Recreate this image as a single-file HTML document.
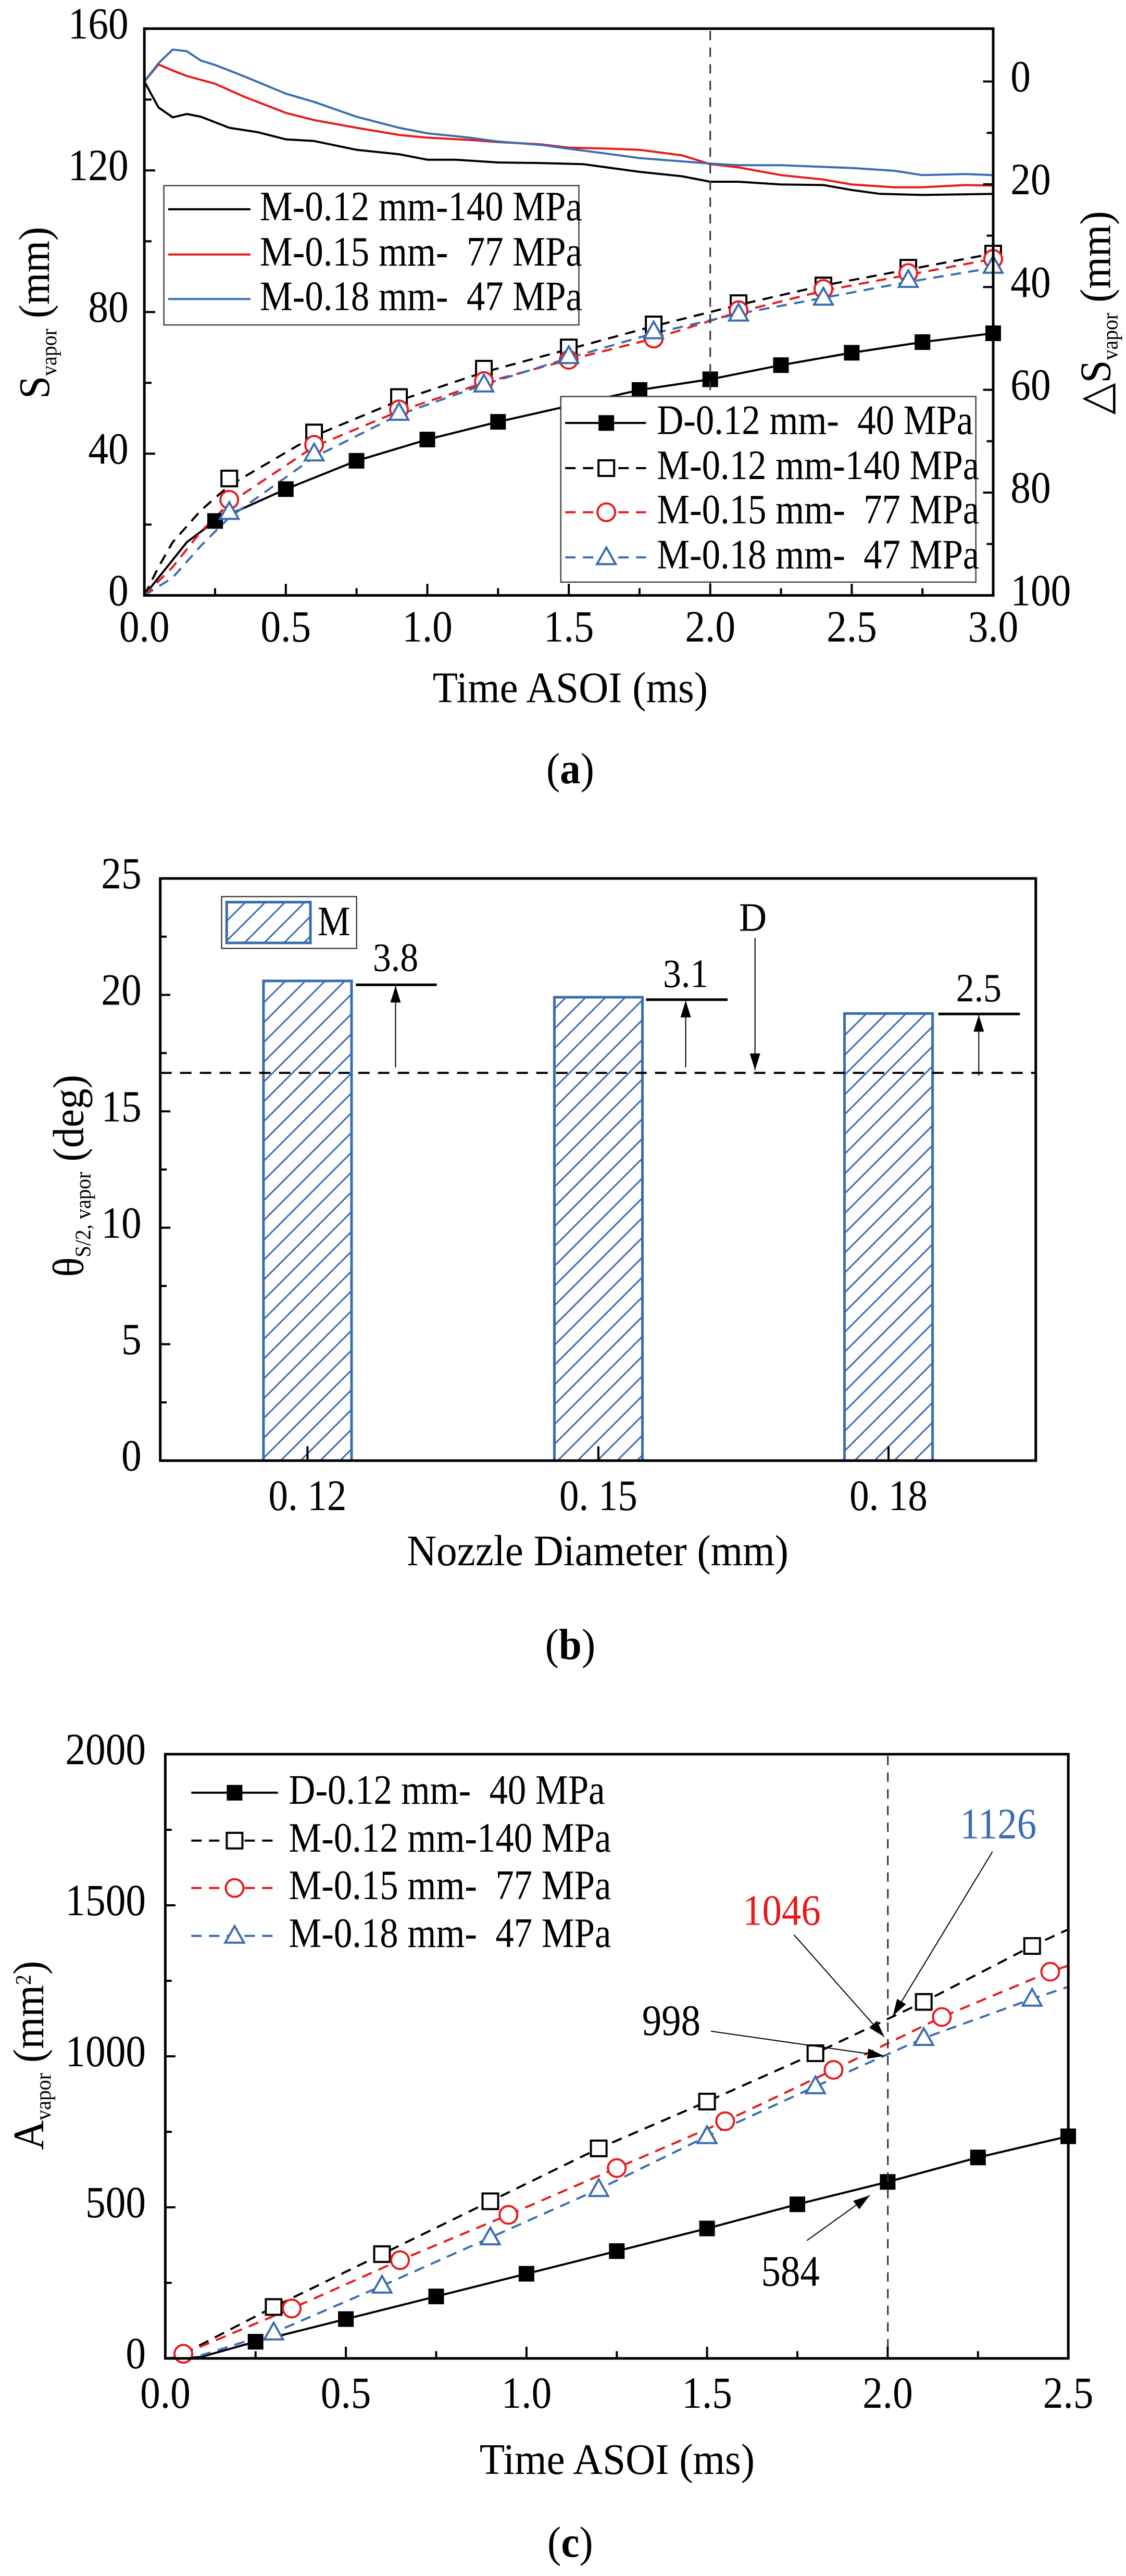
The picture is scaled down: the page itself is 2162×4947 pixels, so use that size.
<!DOCTYPE html>
<html><head><meta charset="utf-8">
<style>
html,body{margin:0;padding:0;background:#fff;overflow:hidden;}
svg{display:block;}
text{font-family:"Liberation Serif","Times New Roman","DejaVu Serif",serif;}
</style></head>
<body>
<div id="c"></div>
<script>
var KX=1.3859,KY=1.0577,OY=0;
function fx(x){return +(x*KX).toFixed(1);}
function fy(y){return +(OY+y*KY).toFixed(1);}
var out=[];
function P(s){out.push(s);}
function T(x,y,s,fs,anc,fill,sx,rot){
  sx=sx||0.8;anc=anc||'middle';fill=fill||'#000';
  var tr='translate('+fx(x)+','+fy(y)+')'+(rot?' rotate('+rot+')':'')+' scale('+sx+',1)';
  P('<text font-family="Liberation Serif, serif" transform="'+tr+'" font-size="'+(fs*KX).toFixed(1)+'" text-anchor="'+anc+'" fill="'+fill+'">'+s+'</text>');
}
function L(x1,y1,x2,y2,c,w,d){P('<line x1="'+fx(x1)+'" y1="'+fy(y1)+'" x2="'+fx(x2)+'" y2="'+fy(y2)+'" stroke="'+(c||'#000')+'" stroke-width="'+(w||3)+'"'+(d?' stroke-dasharray="'+d+'"':'')+'/>');}
function PL(pts,c,w,d){P('<polyline fill="none" points="'+pts.map(function(p){return fx(p[0])+','+fy(p[1])}).join(' ')+'" stroke="'+c+'" stroke-width="'+w+'" stroke-linejoin="round"'+(d?' stroke-dasharray="'+d+'"':'')+'/>');}
function R(x,y,w,h,fill,stroke,sw){P('<rect x="'+fx(x)+'" y="'+fy(y)+'" width="'+(w*KX).toFixed(1)+'" height="'+(h*KY).toFixed(1)+'" fill="'+fill+'" stroke="'+stroke+'" stroke-width="'+sw+'"/>');}
function M(type,x,y,c){
  var X=fx(x),Y=fy(y),r=15;
  if(type=='fs')P('<rect x="'+(X-r)+'" y="'+(Y-r)+'" width="'+2*r+'" height="'+2*r+'" fill="#000"/>');
  if(type=='os')P('<rect x="'+(X-r)+'" y="'+(Y-r)+'" width="'+2*r+'" height="'+2*r+'" fill="#fff" stroke="#000" stroke-width="4"/>');
  if(type=='oc')P('<circle cx="'+X+'" cy="'+Y+'" r="'+(r+2)+'" fill="#fff" stroke="'+c+'" stroke-width="4"/>');
  if(type=='ot')P('<polygon points="'+X+','+(Y-19)+' '+(X+18)+','+(Y+13)+' '+(X-18)+','+(Y+13)+'" fill="#fff" stroke="'+c+'" stroke-width="4"/>');
}
function arrow(x1,y1,x2,y2){
  x1=fx(x1);y1=fy(y1);x2=fx(x2);y2=fy(y2);
  P('<line x1="'+x1+'" y1="'+y1+'" x2="'+x2+'" y2="'+y2+'" stroke="#000" stroke-width="2"/>');
  var a=Math.atan2(y2-y1,x2-x1),l=32,w=10;
  var bx=x2-l*Math.cos(a),by=y2-l*Math.sin(a);
  var px=-Math.sin(a)*w,py=Math.cos(a)*w;
  P('<polygon points="'+x2+','+y2+' '+(bx+px)+','+(by+py)+' '+(bx-px)+','+(by-py)+'" fill="#000"/>');
}
var RED='#e8191c',BLUE='#3a6cb0',DASH='20 14';
var TS=0.9,LS=0.88;

P('<svg xmlns="http://www.w3.org/2000/svg" width="2162" height="4947" viewBox="0 0 2162 4947">');
P('<defs><pattern id="h" patternUnits="userSpaceOnUse" width="38" height="38"><path d="M-9,9 L9,-9 M0,38 L38,0 M29,47 L47,29" stroke="'+BLUE+'" stroke-width="3"/></pattern></defs>');
P('<rect width="2162" height="4947" fill="#fff"/>');

/* ---------- Panel a ---------- */
OY=0;
(function(){
var X=function(t){return 200+392*t},Y=function(v){return 1081-v*6.431};
var tb=[[0,148],[0.05,195],[0.1,213],[0.15,207],[0.2,212],[0.3,232],[0.4,240],[0.5,253],[0.6,256],[0.75,272],[0.9,280],[1.0,290],[1.1,290],[1.25,295],[1.4,296],[1.55,298],[1.75,312],[1.9,320],[2.0,330],[2.1,330],[2.25,335],[2.4,336],[2.5,345],[2.6,352],[2.75,354],[3.0,352]];
var tr=[[0,148],[0.05,117],[0.1,128],[0.15,138],[0.25,152],[0.35,175],[0.5,205],[0.6,218],[0.75,232],[0.9,245],[1.0,250],[1.15,254],[1.25,258],[1.4,262],[1.5,268],[1.65,270],[1.75,272],[1.9,282],[2.0,298],[2.1,304],[2.25,318],[2.4,326],[2.5,335],[2.65,340],[2.75,340],[2.9,336],[3.0,337]];
var tl=[[0,148],[0.05,115],[0.1,90],[0.15,93],[0.2,110],[0.25,118],[0.35,138],[0.5,170],[0.6,185],[0.75,212],[0.9,232],[1.0,242],[1.15,250],[1.25,257],[1.4,263],[1.5,270],[1.65,280],[1.75,287],[1.9,293],[2.0,297],[2.1,300],[2.25,300],[2.4,303],[2.5,305],[2.65,310],[2.75,318],[2.9,316],[3.0,318]];
[[tb,'#000'],[tr,RED],[tl,BLUE]].forEach(function(s){PL(s[0].map(function(p){return [X(p[0]),p[1]]}),s[1],4);});
var D=[[0,0],[0.05,5],[0.1,10],[0.15,15],[0.25,21],[0.5,30],[0.75,38],[1.0,44],[1.25,49],[1.5,53.5],[1.75,58],[2.0,61],[2.25,65],[2.5,68.5],[2.75,71.5],[3.0,74]];
var m12=[[0,0],[0.05,8],[0.1,15],[0.2,24],[0.3,31],[0.6,45],[0.9,55],[1.2,63],[1.5,69.5],[1.8,76],[2.1,82],[2.4,87.5],[2.7,92],[3.0,96.5]];
var m15=[[0,0],[0.1,8],[0.2,18],[0.3,26],[0.6,42],[0.9,52],[1.2,60],[1.5,66.5],[1.8,72.5],[2.1,80],[2.4,86],[2.7,90.5],[3.0,95]];
var m18=[[0,0],[0.1,5],[0.2,14],[0.3,22],[0.6,39],[0.9,51],[1.2,59.5],[1.5,67],[1.8,74],[2.1,79.5],[2.4,84],[2.7,88.5],[3.0,92.5]];
function tp(a){return a.map(function(p){return [X(p[0]),Y(p[1])]})}
PL(tp(D),'#000',4);PL(tp(m12),'#000',4,DASH);PL(tp(m15),RED,4,DASH);PL(tp(m18),BLUE,4,DASH);
D.slice(4).forEach(function(p){M('fs',X(p[0]),Y(p[1]));});
[[0.3,33],[0.6,46],[0.9,56],[1.2,64],[1.5,70],[1.8,76.5],[2.1,82.5],[2.4,87.5],[2.7,92.5],[3.0,96.5]].forEach(function(p){M('os',X(p[0]),Y(p[1]));});
[[0.3,27],[0.6,42.5],[0.9,52.5],[1.2,60.5],[1.5,66.5],[1.8,72.5],[2.1,80.5],[2.4,86.5],[2.7,91],[3.0,95]].forEach(function(p){M('oc',X(p[0]),Y(p[1]),RED);});
[[0.3,23.5],[0.6,40],[0.9,51.5],[1.2,59.5],[1.5,67.5],[1.8,74.5],[2.1,79.5],[2.4,84],[2.7,89],[3.0,93]].forEach(function(p){M('ot',X(p[0]),Y(p[1]),BLUE);});
L(984,56,984,1081,'#333',3,'18 14');
R(200,52,1176,1029,'none','#000',5);
for(var i=0;i<=8;i++){var y=1081-i*128.6;L(200,y,i%2?210:215,y,'#000',4);}
for(i=0;i<=12;i++){var x=X(i*0.25);L(x,1081,x,i%2?1068:1060,'#000',4);}
for(i=0;i<=10;i++){var y=148+i*93.3;L(1376,y,i%2?1367:1362,y,'#000',4);}
[0,40,80,120,160].forEach(function(v){T(178,Y(v)+18,v,62,'end','#000',TS);});
[0,20,40,60,80,100].forEach(function(v,i){T(1400,148+i*186.6+18,v,62,'start','#000',TS);});
for(i=0;i<=6;i++)T(X(i*0.5),1165,(i*0.5).toFixed(1),62,'middle','#000',TS);
T(790,1275,'Time ASOI (ms)',60,'middle','#000',0.95);
T(68,568,'S<tspan font-size="42" dy="14">vapor</tspan><tspan dy="-14"> (mm)</tspan>',60,'middle','#000',0.95,-90);
T(1538,568,'△S<tspan font-size="42" dy="14">vapor</tspan><tspan dy="-14"> (mm)</tspan>',60,'middle','#000',0.95,-90);
T(790,1422,'(<tspan font-weight="bold">a</tspan>)',60,'middle','#000',0.95);
R(227,337,575,253,'#fff','#444',2.5);
[['M-0.12 mm-140 MPa','#000',380],['M-0.15 mm-  77 MPa',RED,462],['M-0.18 mm-  47 MPa',BLUE,543]].forEach(function(r){
  L(233,r[2],347,r[2],r[1],4);T(360,r[2]+20,r[0].replace(/  /g,'&#160; '),58,'start','#000',LS);});
R(777,720,575,337,'#fff','#444',2.5);
var rows=[['D-0.12 mm-  40 MPa','#000',768,'fs',0],['M-0.12 mm-140 MPa','#000',850,'os',1],['M-0.15 mm-  77 MPa',RED,930,'oc',1],['M-0.18 mm-  47 MPa',BLUE,1012,'ot',1]];
rows.forEach(function(r){L(783,r[2],895,r[2],r[1],4,r[4]?DASH:0);M(r[3],840,r[2],r[1]);T(910,r[2]+20,r[0].replace(/  /g,'&#160; '),58,'start','#000',LS);});
})();

/* ---------- Panel b ---------- */
OY=1650;
(function(){
var Y=function(v){return 1092-v*42.28};
[[365,20.6],[768,19.9],[1170,19.2]].forEach(function(b){R(b[0],Y(b[1]),122,1092-Y(b[1]),'url(#h)',BLUE,5);});
L(222,388,1435,388,'#000',4,'22 16');
R(222,35,1213,1057,'none','#000',5);
for(var i=0;i<=10;i++){var y=1092-i*105.7;L(222,y,i%2?231:236,y,'#000',4);}
['12','15','18'].forEach(function(s,k){var x=[426,829,1231][k];L(x,1092,x,1066,'#000',4);T(x,1182,'0. '+s,60,'middle','#000',TS);});
for(i=0;i<=5;i++)T(196,Y(i*5)+18,i*5,62,'end','#000',TS);
T(828,1282,'Nozzle Diameter (mm)',60,'middle','#000',0.95);
T(115,575,'θ<tspan font-size="42" dy="14">S/2, vapor</tspan><tspan dy="-14"> (deg)</tspan>',60,'middle','#000',0.95,-90);
T(790,1452,'(<tspan font-weight="bold">b</tspan>)',60,'middle','#000',0.95);
[[493,605,228,548,378,'3.8',203],[895,1008,255,950,378,'3.1',232],[1300,1413,281,1356,393,'2.5',258]].forEach(function(a){
  L(a[0],a[2],a[1],a[2],'#000',5);arrow(a[3],a[4],a[3],a[2]+2);T(a[3],a[6],a[5],56,'middle','#000',TS);});
T(1043,130,'D',56,'middle','#000',0.95);arrow(1046,143,1046,383);
R(307,68,187,94,'#fff','#444',2.5);
R(314,78,116,74,'url(#h)',BLUE,5);
T(440,138,'M',58,'start','#000',LS);
})();

/* ---------- Panel c ---------- */
OY=3300;
(function(){
var X=function(t){return 229+500.4*t},Y=function(v){return 1162-v*0.5485};
function tp(a){return a.map(function(p){return [X(p[0]),Y(p[1])]})}
var D=[[0.05,0],[0.1,5],[0.25,55],[0.5,130],[0.75,205],[1.0,280],[1.25,355],[1.5,430],[1.75,510],[2.0,584],[2.25,665],[2.5,735]];
var m12=[[0.05,15],[0.3,170],[0.6,345],[0.9,520],[1.2,695],[1.5,850],[1.8,1010],[2.1,1180],[2.4,1365],[2.5,1420]];
var m15=[[0.05,15],[0.35,165],[0.65,325],[0.95,475],[1.25,630],[1.55,785],[1.85,955],[2.15,1130],[2.45,1280],[2.5,1300]];
var m18=[[0,0],[0.1,10],[0.3,85],[0.6,240],[0.9,400],[1.2,560],[1.5,735],[1.8,900],[2.1,1060],[2.4,1190],[2.5,1230]];
PL(tp(D),'#000',4);PL(tp(m12),'#000',4,DASH);PL(tp(m15),RED,4,DASH);PL(tp(m18),BLUE,4,DASH);
D.slice(2).forEach(function(p){M('fs',X(p[0]),Y(p[1]));});
m12.slice(1,9).forEach(function(p){M('os',X(p[0]),Y(p[1]));});
m15.slice(0,9).forEach(function(p){M('oc',X(p[0]),Y(p[1]),RED);});
m18.slice(2,10).forEach(function(p){M('ot',X(p[0]),Y(p[1]),BLUE);});
L(1230,68,1230,1162,'#333',3,'18 14');
R(229,65,1251,1097,'none','#000',5);
for(var i=0;i<=8;i++){var y=1162-i*137.1;L(229,y,i%2?238:243,y,'#000',4);}
for(i=0;i<=10;i++){var x=X(i*0.25);L(x,1162,x,i%2?1149:1141,'#000',4);}
for(i=0;i<=4;i++)T(202,Y(i*500)+18,i*500,62,'end','#000',TS);
for(i=0;i<=5;i++)T(X(i*0.5),1252,(i*0.5).toFixed(1),62,'middle','#000',TS);
T(855,1372,'Time ASOI (ms)',60,'middle','#000',0.95);
T(60,612,'A<tspan font-size="42" dy="14">vapor</tspan><tspan dy="-14"> (mm</tspan><tspan font-size="42" dy="-24">2</tspan><tspan dy="24">)</tspan>',60,'middle','#000',0.95,-90);
T(790,1522,'(<tspan font-weight="bold">c</tspan>)',60,'middle','#000',0.95);
var rows=[['D-0.12 mm-  40 MPa','#000',135,'fs',0],['M-0.12 mm-140 MPa','#000',222,'os',1],['M-0.15 mm-  77 MPa',RED,308,'oc',1],['M-0.18 mm-  47 MPa',BLUE,395,'ot',1]];
rows.forEach(function(r){L(265,r[2],385,r[2],r[1],4,r[4]?DASH:0);M(r[3],325,r[2],r[1]);T(400,r[2]+20,r[0].replace(/  /g,'&#160; '),58,'start','#000',LS);});
T(1383,218,'1126',60,'middle',BLUE,TS);arrow(1375,242,1237,540);
T(1083,375,'1046',60,'middle',RED,TS);arrow(1100,393,1225,578);
T(930,575,'998',60,'middle','#000',TS);arrow(985,568,1225,613);
T(1095,1030,'584',60,'middle','#000',TS);arrow(1118,948,1205,866);
})();
P('</svg>');
document.getElementById('c').innerHTML=out.join('');
</script>
</body></html>
